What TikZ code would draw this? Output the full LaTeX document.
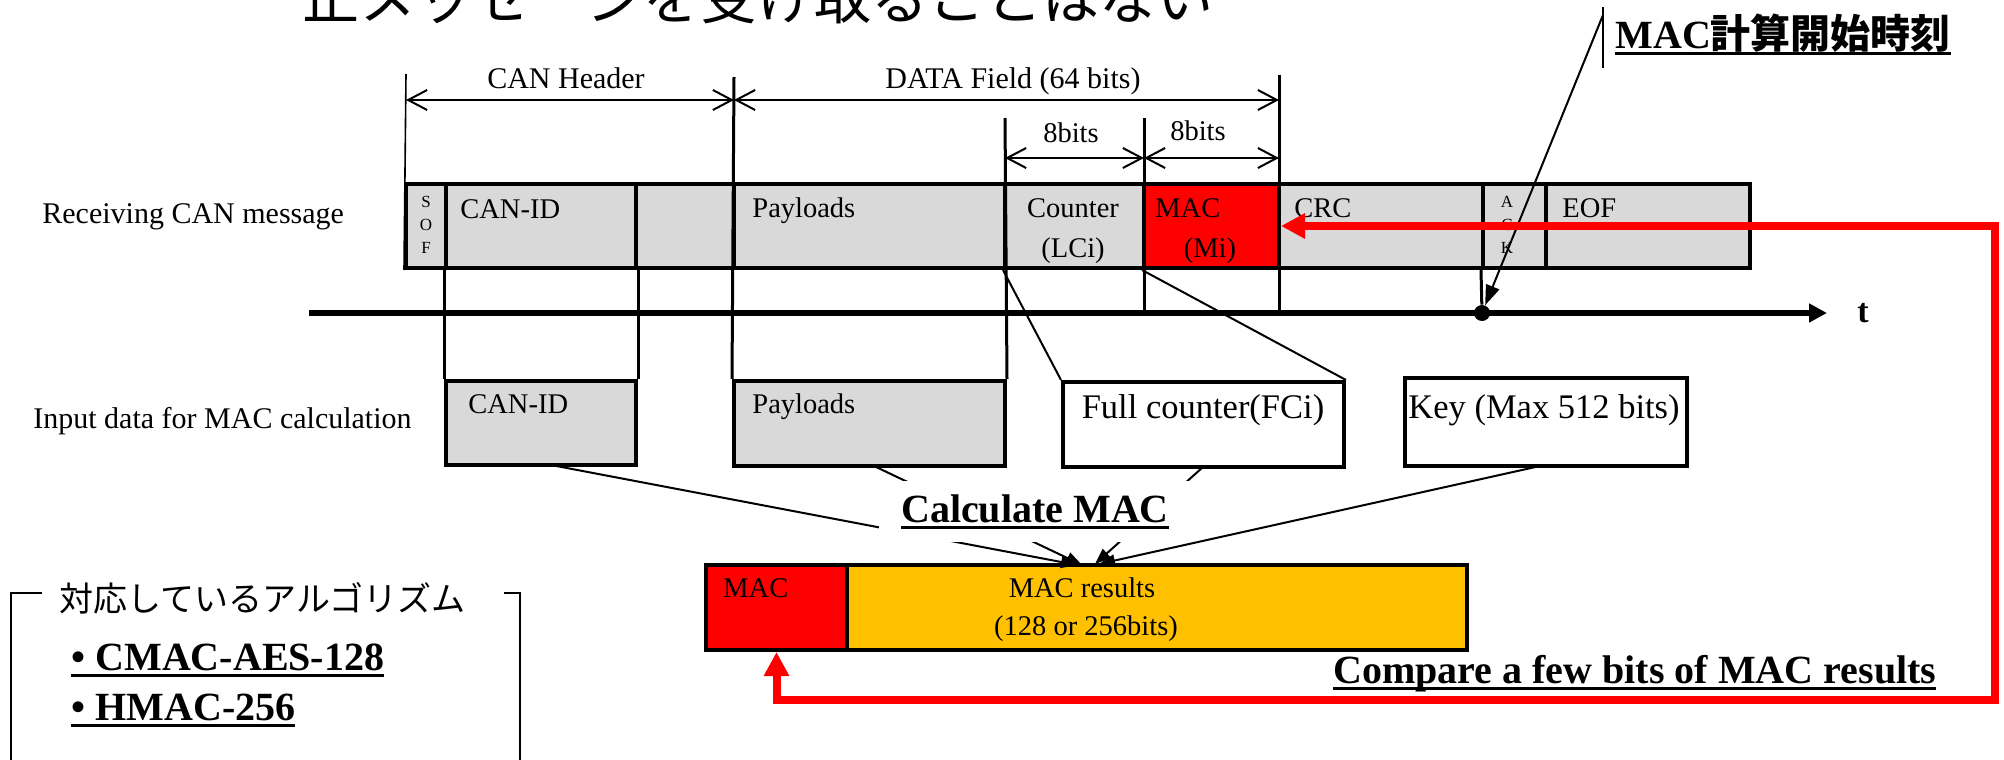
\documentclass[tikz,border=0pt]{standalone}
\usepackage{fontspec}
\setmainfont{Liberation Serif}
\newfontfamily\jpfont{Noto Sans CJK JP}
\usetikzlibrary{arrows.meta,fit}
\definecolor{cangray}{HTML}{D9D9D9}
\definecolor{macred}{HTML}{FF0000}
\definecolor{resorange}{HTML}{FFC000}
\newcommand\fsz[1]{\fontsize{#1}{#1}\selectfont}
\newsavebox\ulbox
\newcommand\ulbar[1]{\sbox\ulbox{#1}\rlap{\rule[-3.3pt]{\wd\ulbox}{1.5pt}}\usebox\ulbox}
\begin{document}
\begin{tikzpicture}[x=0.5pt,y=-0.5pt,
  field/.style={draw, line width=2pt, fill=cangray, inner sep=0pt},
  inbox/.style={draw, line width=2pt, fill=white, inner sep=0pt},
  lbl/.style={inner sep=0pt, anchor=base west, font=\fsz{14.25pt}},
  clbl/.style={inner sep=0pt, anchor=base, font=\fsz{14.25pt}},
  bitcol/.style={inner sep=0pt, align=center, font=\fontsize{8.5pt}{11.5pt}\selectfont},
  dimline/.style={line width=1pt, {Straight Barb[length=9.5pt,width=10pt]}-{Straight Barb[length=9.5pt,width=10pt]}},
  tick/.style={line width=1.5pt},
  thintick/.style={line width=0.8pt},
  feed/.style={line width=1pt, -{Triangle[length=8pt,width=6pt]}},
  redline/.style={draw=macred, line width=4pt, line join=miter,
    {Triangle[length=12pt,width=12pt]}-{Triangle[length=12pt,width=12pt]}},
  hdr/.style={inner sep=0pt, anchor=base west, font=\fsz{20pt}\bfseries},
]
\useasboundingbox (0,0) rectangle (2004,760);
\clip (0,0) rectangle (2004,760);

% heading line (runs off the top edge)
\node[inner sep=0pt, anchor=base west, font={\jpfont\fsz{28.5pt}}] (head) at (302,19) {正メッセージを受け取ることはない};

% dimension ticks and arrows above the frame
\coordinate (tkA) at (406,74);
\coordinate (tkB) at (734,77);
\coordinate (tkC) at (1005,118);
\coordinate (tkD) at (1144,118);
\coordinate (tkE) at (1279,75);
\coordinate (hdrL) at (406,100);
\coordinate (hdrM) at (734,100);
\coordinate (hdrR) at (1279,100);
\coordinate (bitL) at (1005,158);
\coordinate (bitM) at (1144,158);
\coordinate (bitR) at (1279,158);

% timeline
\coordinate (tl0) at (309,313);
\coordinate (tl1) at (1827,313);
\draw[line width=3pt, -{Triangle[length=9pt,width=9pt]}] (tl0) -- (tl1);
\node[inner sep=0pt, anchor=base west, font=\fsz{17pt}\bfseries] (tlab) at (1857,322) {t};

% received frame
\node[field, fit={(406,184) (446,268)}] (sof) {};
\node[field, fit={(446,184) (636,268)}] (fid) {};
\node[field, fit={(636,184) (734,268)}] (frsv) {};
\node[field, fit={(734,184) (1005,268)}] (fpay) {};
\node[field, fit={(1005,184) (1144,268)}] (fctr) {};
\node[field, fill=macred, fit={(1144,184) (1279,268)}] (fmac) {};
\node[field, fit={(1279,184) (1483,268)}] (fcrc) {};
\node[field, fit={(1483,184) (1546,268)}] (fack) {};
\node[field, fit={(1546,184) (1750,268)}] (feof) {};

\node[bitcol] (tsof) at (426,225) {S\\O\\F};
\node[bitcol] (tack) at (1507,225) {A\\C\\K};
\node[lbl] (tfid) at (460,218) {CAN-ID};
\node[lbl] (tfpay) at (752,217) {Payloads};
\node[clbl] (tfctr1) at (1073,217) {Counter};
\node[clbl] (tfctr2) at (1073,257) {(LCi)};
\node[lbl] (tfmac1) at (1155,217) {MAC};
\node[clbl] (tfmac2) at (1210,257) {(Mi)};
\node[lbl] (tfcrc) at (1294,217) {CRC};
\node[lbl] (tfeof) at (1562,217) {EOF};

% input boxes for the MAC computation
\node[field, fit={(446,381) (636,465)}] (inid) {};
\node[field, fit={(734,381) (1005,466)}] (inpay) {};
\node[inbox, fit={(1063,382) (1344,467)}] (infc) {};
\node[inbox, fit={(1405,378) (1687,466)}] (inkey) {};
\node[lbl] (tinid) at (468,413) {CAN-ID};
\node[lbl] (tinpay) at (752,413) {Payloads};
\node[clbl, font=\fsz{17.25pt}] (tinfc) at (1203,418) {Full counter(FCi)};
\node[clbl, font=\fsz{17.25pt}] (tinkey) at (1544,418) {Key (Max 512 bits)};

% row captions
\node[lbl, font=\fsz{15pt}] (rxlab) at (42,223) {Receiving CAN message};
\node[lbl, font=\fsz{15pt}] (inlab) at (33,428) {Input data for MAC calculation};

% ticks and guide lines
\draw[thintick] (tkA) -- (sof.south west);
\draw[tick] (tkB) -- (inpay.north west);
\draw[tick] (tkC) -- (inpay.north east);
\draw[tick] (tkD) -- (tkD |- tl0);
\draw[tick] (tkE) -- (tkE |- tl0);
\draw[dimline] (hdrL) -- (hdrM);
\draw[dimline] (hdrM) -- (hdrR);
\draw[dimline] (bitL) -- (bitM);
\draw[dimline] (bitM) -- (bitR);
\node[clbl, font=\fsz{15pt}] (thdr) at (566,88) {CAN Header};
\node[clbl, font=\fsz{15pt}] (tdata) at (1013,88) {DATA Field (64 bits)};
\node[clbl] (tbit1) at (1071,142) {8bits};
\node[clbl] (tbit2) at (1198,140) {8bits};

\draw[tick] (fid.south west) -- (inid.north west);
\draw[tick] (fid.south east) -- (inid.north east);
\draw[line width=1pt] (fctr.south west) -- (infc.north west);
\draw[line width=1pt] (fmac.south west) -- (infc.north east);

% MAC start time marker
\node[circle, fill, inner sep=0pt, minimum size=8pt] (tdot) at (1482,313) {};
\draw[tick] (fack.south west) -- (tdot);
\coordinate (vs0) at (1603,7);
\coordinate (vs1) at (1603,68);
\coordinate (vsa) at (1603,15);
\draw[line width=1pt] (vs0) -- (vs1);
\draw[line width=1pt, -{Triangle[length=10pt,width=7pt]}] (vsa) -- (tdot);
\node[hdr] (tstart) at (1615,48) {\ulbar{MAC{\jpfont 計算開始時刻}}};

% MAC result
\node[field, fill=macred, fit={(706,565) (847,650)}] (rmac) {};
\node[field, fill=resorange, fit={(847,565) (1467,650)}] (rout) {};
\node[lbl] (trmac) at (723,597) {MAC};
\node[clbl] (trout1) at (1082,597) {MAC results};
\node[clbl] (trout2) at (1086,635) {(128 or 256bits)};

% inputs feeding the MAC calculation
\coordinate (f1s) at (551,465);
\coordinate (f2s) at (874,466);
\coordinate (f3s) at (1203,467);
\coordinate (f4s) at (1540,466);
\coordinate (f1e) at (1077,565);
\coordinate (f2e) at (1082,565);
\coordinate (f3e) at (1095,564);
\coordinate (f4e) at (1099,564);
\draw[feed] (f1s) -- (f1e);
\draw[feed] (f2s) -- (f2e);
\draw[feed] (f3s) -- (f3e);
\draw[feed] (f4s) -- (f4e);
\node[fill=white, inner xsep=11pt, inner ysep=6.5pt, anchor=base, font=\fsz{20pt}\bfseries] (calc) at (1035,522) {\ulbar{Calculate MAC}};

% comparison loop
\coordinate (rcorner) at (1995,700);
\draw[redline] (fmac.east) -- (fmac.east -| rcorner) -- (rcorner) -- (rmac.south |- rcorner) -- (rmac.south);
\node[hdr] (cmp) at (1333,683) {\ulbar{Compare a few bits of MAC results}};

% supported algorithms
\draw[line width=1.2pt] (11,780) -- (11,593) -- (42,593);
\draw[line width=1.2pt] (504,593) -- (520,593) -- (520,780);
\node[inner sep=0pt, anchor=base west, font={\jpfont\fsz{17pt}}] (algtitle) at (59,611) {対応しているアルゴリズム};
\node[hdr] (alg1) at (71,670) {\ulbar{• CMAC-AES-128}};
\node[hdr] (alg2) at (71,720) {\ulbar{• HMAC-256}};
\end{tikzpicture}
\end{document}
